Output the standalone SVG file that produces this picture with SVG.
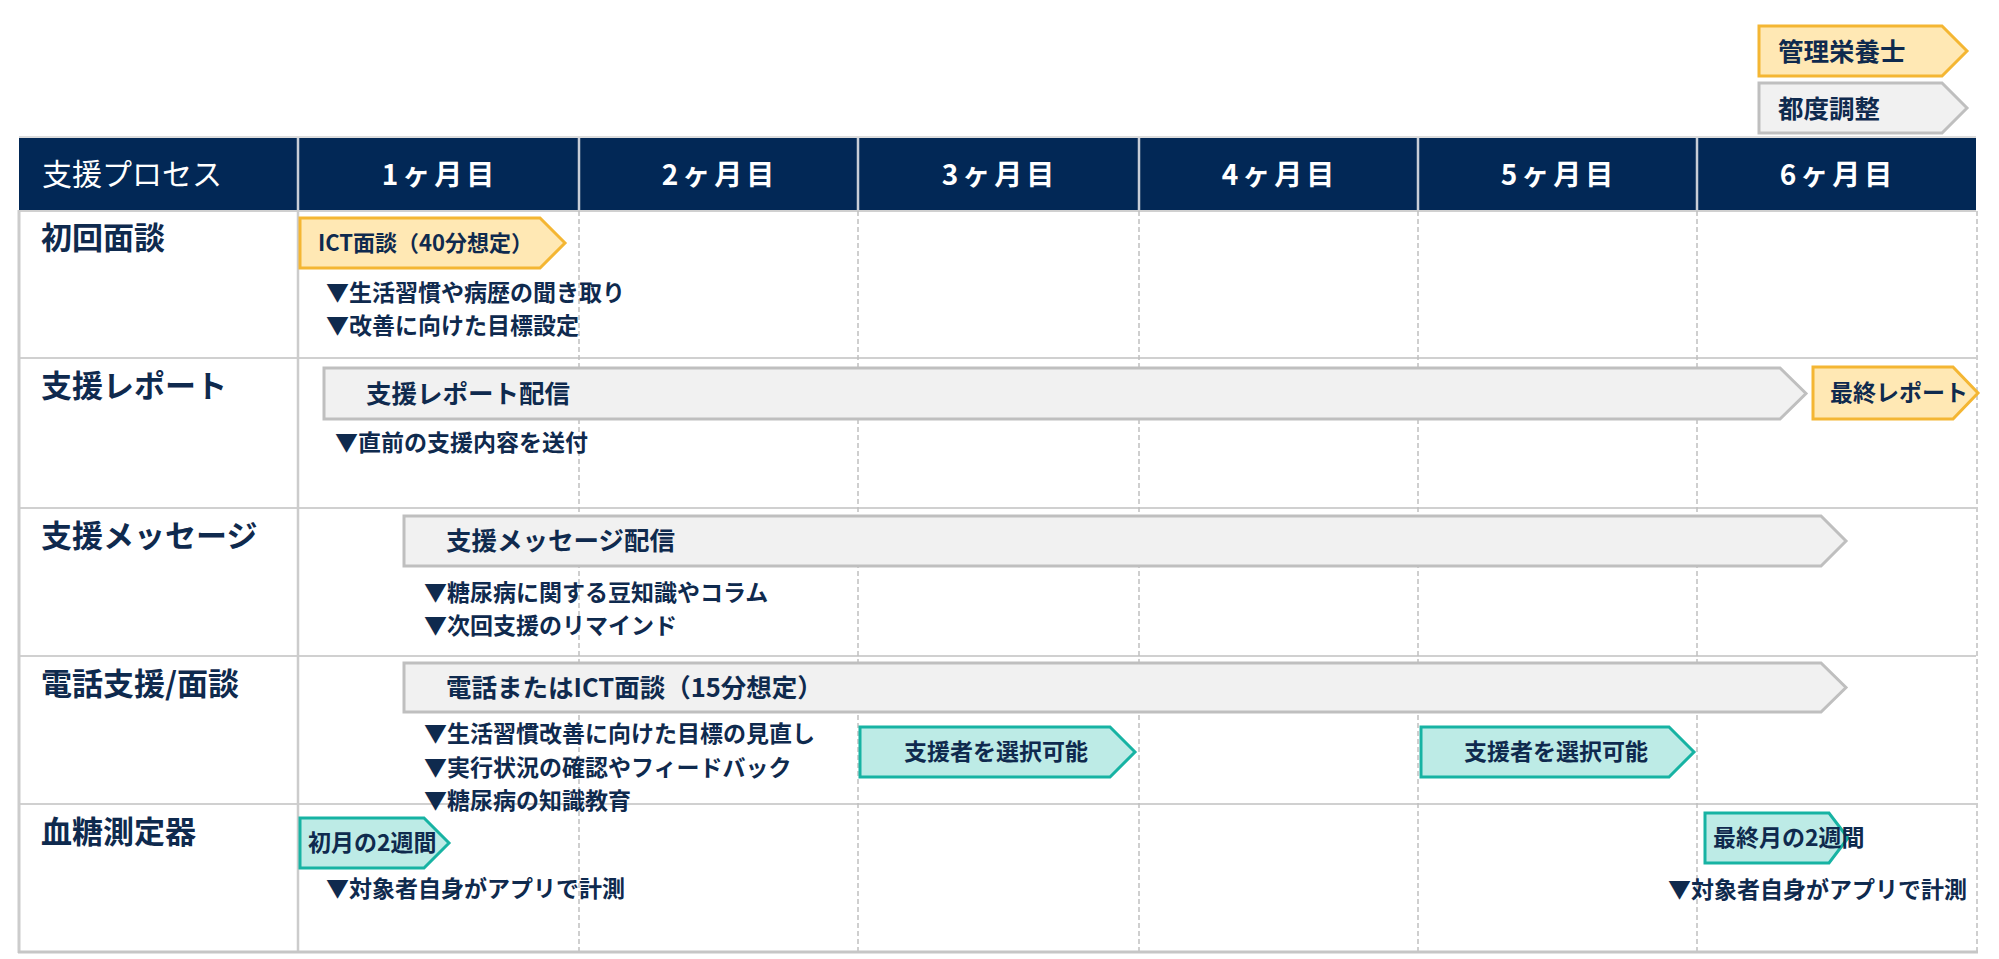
<svg xmlns="http://www.w3.org/2000/svg" width="1999" height="959" viewBox="0 0 1999 959">
<style>
text{font-family:"Noto Sans CJK JP","Noto Sans",sans-serif;fill:#0f2a4e;font-weight:700}
.hd{fill:#ffffff;font-size:28px;letter-spacing:4px;text-anchor:middle}
.hl{fill:#ffffff;font-size:30px;font-weight:400}
.lab{font-size:31px}
.bul{font-size:23px}
.gl{font-size:25.5px}
.sm{font-size:23px}
.yel{fill:#ffe8b4;stroke:#f4b633;stroke-width:3}
.gry{fill:#f1f1f1;stroke:#bfbfbf;stroke-width:3}
.teal{fill:#bdebe6;stroke:#17b3a3;stroke-width:3}
.solid{stroke:#d0d0d0;stroke-width:2;fill:none}
.dash{stroke:#c0c0c0;stroke-width:1.5;stroke-dasharray:5 3;fill:none}
</style>
<rect x="0" y="0" width="1999" height="959" fill="#ffffff"/>

<g id="legend">
  <g id="legend-dietitian">
    <polygon class="yel" points="1759,26 1942,26 1967,51 1942,76 1759,76"/>
    <text x="1778" y="61" style="font-size:25.5px">管理栄養士</text>
  </g>
  <g id="legend-adjust">
    <polygon class="gry" points="1759,83 1942,83 1967,108 1942,133 1759,133"/>
    <text x="1778" y="118" style="font-size:25.5px">都度調整</text>
  </g>
</g>

<g id="header">
  <line x1="19" y1="137" x2="1976" y2="137" stroke="#dcdcdc" stroke-width="2"/>
  <rect x="19" y="138" width="1957" height="72" fill="#022856"/>
  <g stroke="#c8cdd6" stroke-width="2.5">
    <line x1="298" y1="138" x2="298" y2="210"/>
    <line x1="579" y1="138" x2="579" y2="210"/>
    <line x1="858" y1="138" x2="858" y2="210"/>
    <line x1="1139" y1="138" x2="1139" y2="210"/>
    <line x1="1418" y1="138" x2="1418" y2="210"/>
    <line x1="1697" y1="138" x2="1697" y2="210"/>
  </g>
  <text class="hl" x="42" y="185">支援プロセス</text>
  <text class="hd" x="440" y="185">1ヶ月目</text>
  <text class="hd" x="720" y="185">2ヶ月目</text>
  <text class="hd" x="1000" y="185">3ヶ月目</text>
  <text class="hd" x="1280" y="185">4ヶ月目</text>
  <text class="hd" x="1559" y="185">5ヶ月目</text>
  <text class="hd" x="1838" y="185">6ヶ月目</text>
</g>

<g id="connectors">
  <line class="solid" x1="19" y1="211" x2="1976" y2="211"/>
  <line class="solid" x1="19" y1="358" x2="1976" y2="358"/>
  <line class="solid" x1="19" y1="508" x2="1976" y2="508"/>
  <line class="solid" x1="19" y1="656" x2="1976" y2="656"/>
  <line class="solid" x1="19" y1="804" x2="1976" y2="804"/>
  <line class="dash" x1="579" y1="211" x2="579" y2="952"/>
  <line class="dash" x1="858" y1="211" x2="858" y2="952"/>
  <line class="dash" x1="1139" y1="211" x2="1139" y2="952"/>
  <line class="dash" x1="1418" y1="211" x2="1418" y2="952"/>
  <line class="dash" x1="1697" y1="211" x2="1697" y2="952"/>
  <line class="dash" x1="1977" y1="211" x2="1977" y2="952"/>
  <line x1="19" y1="210" x2="19" y2="953" stroke="#cccccc" stroke-width="3"/>
  <line x1="298" y1="210" x2="298" y2="952" stroke="#cccccc" stroke-width="2.5"/>
  <line x1="18" y1="952" x2="1978" y2="952" stroke="#c6c6c6" stroke-width="3"/>
</g>

<g id="row-initial">
  <text class="lab" x="41" y="249">初回面談</text>
  <g id="ict-interview">
    <polygon class="yel" points="300,218 540,218 565,243 540,268 300,268"/>
    <text x="318" y="251" style="font-size:22px">ICT面談（40分想定）</text>
  </g>
  <text class="bul" x="326" y="301">▼生活習慣や病歴の聞き取り</text>
  <text class="bul" x="326" y="334">▼改善に向けた目標設定</text>
</g>

<g id="row-report">
  <text class="lab" x="41" y="397">支援レポート</text>
  <g id="report-delivery">
    <polygon class="gry" points="324,368 1780,368 1806,393.5 1780,419 324,419"/>
    <text class="gl" x="366" y="403">支援レポート配信</text>
  </g>
  <g id="final-report">
    <polygon class="yel" points="1813,367 1953,367 1978,393 1953,419 1813,419"/>
    <text class="sm" x="1830" y="401">最終レポート</text>
  </g>
  <text class="bul" x="335" y="451">▼直前の支援内容を送付</text>
</g>

<g id="row-message">
  <text class="lab" x="41" y="547">支援メッセージ</text>
  <g id="message-delivery">
    <polygon class="gry" points="404,516 1821,516 1846,541 1821,566 404,566"/>
    <text class="gl" x="446" y="550">支援メッセージ配信</text>
  </g>
  <text class="bul" x="424" y="601">▼糖尿病に関する豆知識やコラム</text>
  <text class="bul" x="424" y="634">▼次回支援のリマインド</text>
</g>

<g id="row-phone">
  <text class="lab" x="41" y="695">電話支援/面談</text>
  <g id="phone-interview">
    <polygon class="gry" points="404,663 1821,663 1846,687.5 1821,712 404,712"/>
    <text class="gl" x="446" y="697">電話またはICT面談（15分想定）</text>
  </g>
  <g id="select-1">
    <polygon class="teal" points="860,727 1110,727 1135,752 1110,777 860,777"/>
    <text class="sm" x="996" y="760" text-anchor="middle">支援者を選択可能</text>
  </g>
  <g id="select-2">
    <polygon class="teal" points="1421,727 1669,727 1694,752 1669,777 1421,777"/>
    <text class="sm" x="1556" y="760" text-anchor="middle">支援者を選択可能</text>
  </g>
  <text class="bul" x="424" y="742">▼生活習慣改善に向けた目標の見直し</text>
  <text class="bul" x="424" y="776">▼実行状況の確認やフィードバック</text>
  <text class="bul" x="424" y="809">▼糖尿病の知識教育</text>
</g>

<g id="row-glucose">
  <text class="lab" x="41" y="843">血糖測定器</text>
  <g id="first-month">
    <polygon class="teal" points="300,818 424,818 449,843 424,868 300,868"/>
    <text class="sm" x="308" y="851">初月の2週間</text>
  </g>
  <g id="last-month">
    <polygon class="teal" points="1705,813 1829,813 1848,838 1829,863 1705,863"/>
    <text class="sm" x="1713" y="846">最終月の2週間</text>
  </g>
  <text class="bul" x="326" y="897">▼対象者自身がアプリで計測</text>
  <text class="bul" x="1668" y="898">▼対象者自身がアプリで計測</text>
</g>
</svg>
